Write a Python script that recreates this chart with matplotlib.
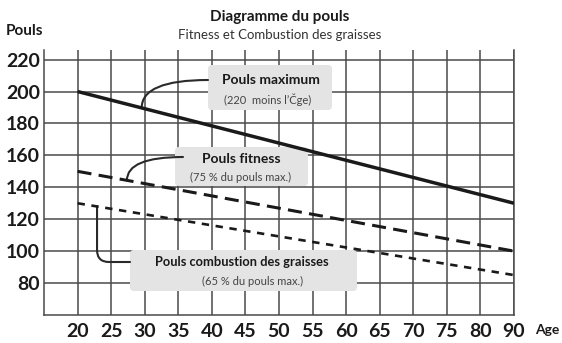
import matplotlib
matplotlib.use("Agg")
import matplotlib.pyplot as plt
import numpy as np
from matplotlib.patches import FancyBboxPatch
from matplotlib.transforms import IdentityTransform

# x axis is categorical: 20..80 in steps of 5, then 90
age_labels = ["20", "25", "30", "35", "40", "45", "50", "55", "60",
              "65", "70", "75", "80", "90"]
pulse_ticks = [80, 100, 120, 140, 160, 180, 200, 220]

# values at the first (20) and last (90) age tick
line_ages = ["20", "90"]
max_pulse = [200, 130]
fitness_pulse = [150, 100]
fatburn_pulse = [130, 85]

W, H = 562, 343
INK = "#1a1a1a"
GRID = "#4a4a4a"
BOX = "#e4e4e4"
FONT = ["Lato", "DejaVu Sans"]

plt.rcParams["font.family"] = FONT

fig = plt.figure(figsize=(W / 100, H / 100), dpi=100)
ax = fig.add_axes([44 / W, 1 - 315 / H, 470 / W, 265 / H])

pos = {lab: i + 1 for i, lab in enumerate(age_labels)}
xs = [pos[a] for a in line_ages]

ax.plot(xs, max_pulse, color=INK, lw=2.5, solid_capstyle="butt", zorder=3)
ax.plot(xs, fitness_pulse, color=INK, lw=2.2, dashes=(4.6, 2.4), zorder=3)
ax.plot(xs, fatburn_pulse, color=INK, lw=1.9, dashes=(2.8, 2.5), zorder=3)

ax.set_xlim(0, len(age_labels))
ax.set_ylim(60, 226)
ax.set_xticks(list(pos.values()))
ax.set_xticklabels(age_labels)
ax.set_yticks(pulse_ticks)
ax.tick_params(length=0, labelsize=14, pad=3, labelcolor=INK)
for lab in ax.get_xticklabels() + ax.get_yticklabels():
    lab.set_fontweight("bold")
ax.tick_params(axis="x", pad=6)
ax.grid(True, color=GRID, lw=1.1)
ax.set_axisbelow(True)
ax.spines["top"].set_visible(False)
for s in ("left", "bottom", "right"):
    ax.spines[s].set_color(GRID)
    ax.spines[s].set_linewidth(1.1)


def fx(x, y):
    # top-left pixel position -> figure fraction
    return x / W, 1 - y / H


# titles and axis names
fig.text(*fx(280, 17), "Diagramme du pouls", ha="center", va="center",
         fontsize=11, fontweight="bold", color=INK)
fig.text(*fx(280, 35), "Fitness et Combustion des graisses", ha="center",
         va="center", fontsize=9.5, color="#333333")
fig.text(*fx(6, 31), "Pouls", ha="left", va="center", fontsize=11,
         fontweight="bold", color=INK)
fig.text(*fx(535, 330), "Age", ha="left", va="center", fontsize=10,
         fontweight="bold", color=INK)

# annotation boxes: (x0, y0, x1, y1) in pixels, title, subtitle, text centres, title size
boxes = [
    ((208, 65, 332, 110), "Pouls maximum", "(220  moins l\u2019\u010cge)", (271, 80), (268, 100), 10),
    ((175, 147, 308, 186), "Pouls fitness", "(75 % du pouls max.)", (241, 159), (241, 177), 10),
    ((130, 250, 357, 291), "Pouls combustion des graisses", "(65 % du pouls max.)", (242, 262), (253, 281), 9.3),
]
for (x0, y0, x1, y1), title, sub, tc, sc, size in boxes:
    patch = FancyBboxPatch((x0, H - y1), x1 - x0, y1 - y0,
                           boxstyle="round,pad=0,rounding_size=4",
                           transform=IdentityTransform(), facecolor=BOX,
                           edgecolor="none", zorder=2, clip_on=False)
    ax.add_patch(patch)
    fig.text(*fx(*tc), title, ha="center", va="center", fontsize=size,
             fontweight="bold", color=INK, zorder=5)
    fig.text(*fx(*sc), sub, ha="center", va="center", fontsize=8,
             color="#444444", zorder=5)

# leader curves from each box to its line
leaders = [
    ((208, 80), max_pulse, 2.91, "angle3,angleA=0,angleB=90"),
    ((183, 157), fitness_pulse, 2.47, "angle3,angleA=0,angleB=90"),
    ((130, 262), fatburn_pulse, 1.58, "angle,angleA=0,angleB=90,rad=12"),
]
for (px, py), series, xpos, style in leaders:
    yval = np.interp(xpos, xs, series)
    ax.annotate("", xy=(xpos, yval), xycoords="data",
                xytext=(px, H - py), textcoords="figure pixels",
                arrowprops=dict(arrowstyle="-", connectionstyle=style,
                                shrinkA=0, shrinkB=0, lw=1.5, color="#2a2a2a"),
                zorder=2.5, annotation_clip=False)

fig.savefig("out.png", dpi=100)
